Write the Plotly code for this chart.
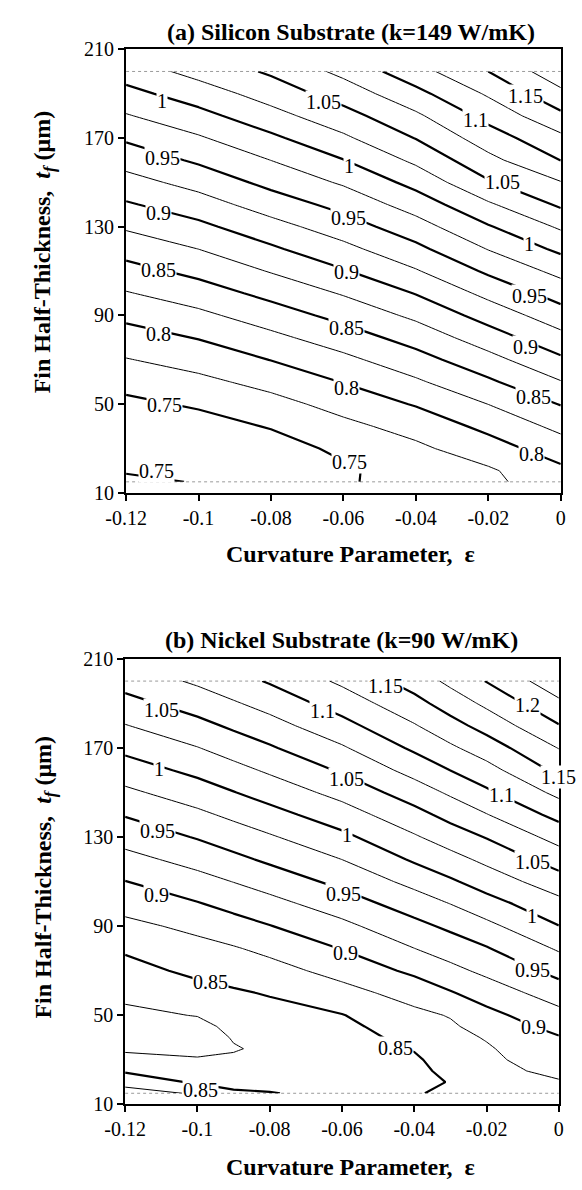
import plotly.graph_objects as go

FONT = "Liberation Serif"

# ---------------- Panel (a) Silicon substrate ----------------
a_x = [-0.12, -0.10, -0.08, -0.06, -0.04, -0.02, 0.0]
a_y = [15, 20, 30, 40, 50, 60, 70, 80, 90, 100, 110, 120, 130, 140, 150, 160, 170, 180, 190, 200]
a_m012 = [0.754, 0.7485, 0.741, 0.741, 0.7437, 0.7587, 0.7737, 0.7894, 0.8058, 0.8233, 0.8414, 0.8597, 0.8782, 0.8972, 0.9157, 0.9346, 0.9538, 0.9731, 0.9923, 1.0115]
a_m010 = [0.749, 0.742, 0.735, 0.7386, 0.7536, 0.7688, 0.7847, 0.8013, 0.8191, 0.8379, 0.8568, 0.8752, 0.8941, 0.9137, 0.9338, 0.9539, 0.9722, 0.992, 1.0125, 1.0333]
a_m008 = [0.739, 0.737, 0.7373, 0.7519, 0.7666, 0.7827, 0.8005, 0.8188, 0.8378, 0.8572, 0.8766, 0.8961, 0.9159, 0.9368, 0.9571, 0.9752, 0.995, 1.0163, 1.0357, 1.0536]
a_m006 = [0.746, 0.745, 0.7563, 0.7688, 0.7836, 0.8009, 0.8188, 0.838, 0.8577, 0.8771, 0.8979, 0.918, 0.938, 0.958, 0.9782, 0.9992, 1.0207, 1.0407, 1.061, 1.0816]
a_m004 = [0.764, 0.766, 0.770, 0.7839, 0.8019, 0.8212, 0.8404, 0.86, 0.8802, 0.9011, 0.9228, 0.9438, 0.9646, 0.9859, 1.008, 1.0302, 1.051, 1.0705, 1.0927, 1.1156]
a_m002 = [0.771, 0.7715, 0.7888, 0.8065, 0.8252, 0.8458, 0.8667, 0.888, 0.9098, 0.9318, 0.9543, 0.9761, 0.9978, 1.0214, 1.0474, 1.068, 1.088, 1.108, 1.1283, 1.15]
a_p000 = [0.7855, 0.7945, 0.8128, 0.8314, 0.8511, 0.8736, 0.8956, 0.9174, 0.9391, 0.9604, 0.9821, 1.0056, 1.0285, 1.054, 1.0738, 1.1003, 1.1192, 1.1444, 1.1687, 1.192]
a_cols = [a_m012, a_m010, a_m008, a_m006, a_m004, a_m002, a_p000]

# ---------------- Panel (b) Nickel substrate ----------------
b_x = [-0.12, -0.10, -0.09, -0.08, -0.06, -0.04, -0.03, -0.02, 0.0]
b_y = [15, 20, 25, 30, 35, 40, 45, 50, 60, 70, 80, 90, 100, 110, 120, 130, 140, 150, 160, 170, 180, 190, 200]
b_m012 = [0.886, 0.8661, 0.8472, 0.833, 0.821, 0.816, 0.815, 0.819, 0.8311, 0.8417, 0.8533, 0.8685, 0.8839, 0.8994, 0.9171, 0.9345, 0.9516, 0.9699, 0.988, 1.0061, 1.0239, 1.0418, 1.0596]
b_m010 = [0.872, 0.8465, 0.8367, 0.827, 0.819, 0.814, 0.817, 0.826, 0.8415, 0.8554, 0.8673, 0.881, 0.8983, 0.9161, 0.9339, 0.9518, 0.9696, 0.988, 1.0063, 1.0241, 1.0426, 1.0609, 1.079]
b_m009 = [0.853, 0.844, 0.835, 0.828, 0.8235, 0.8265, 0.832, 0.838, 0.847, 0.8599, 0.873, 0.890, 0.9077, 0.9256, 0.9441, 0.9621, 0.9803, 0.9991, 1.0173, 1.0357, 1.0542, 1.0724, 1.0908]
b_m008 = [0.851, 0.843, 0.836, 0.831, 0.829, 0.831, 0.836, 0.841, 0.8518, 0.8659, 0.8813, 0.8991, 0.917, 0.9356, 0.9545, 0.9723, 0.9913, 1.0102, 1.0287, 1.0472, 1.0657, 1.0841, 1.1024]
b_m006 = [0.844, 0.838, 0.835, 0.835, 0.837, 0.840, 0.844, 0.849, 0.8664, 0.8836, 0.9009, 0.9188, 0.9375, 0.9565, 0.9752, 0.9942, 1.0135, 1.033, 1.0529, 1.0721, 1.092, 1.1111, 1.1296]
b_m004 = [0.845, 0.842, 0.842, 0.845, 0.8521, 0.8575, 0.8632, 0.8689, 0.8847, 0.9051, 0.9248, 0.9428, 0.9619, 0.9823, 1.0034, 1.0222, 1.0416, 1.0623, 1.0836, 1.1042, 1.1231, 1.1419, 1.1607]
b_m003 = [0.862, 0.8513, 0.858, 0.865, 0.866, 0.868, 0.8715, 0.8765, 0.898, 0.9181, 0.9366, 0.9549, 0.9752, 0.9966, 1.0165, 1.037, 1.0579, 1.0788, 1.1002, 1.1209, 1.1411, 1.1611, 1.181]
b_m002 = [0.867, 0.868, 0.869, 0.8705, 0.8725, 0.8766, 0.8846, 0.8926, 0.9112, 0.9308, 0.9483, 0.9686, 0.9903, 1.011, 1.0309, 1.0514, 1.0739, 1.0957, 1.1161, 1.1375, 1.1592, 1.1802, 1.201]
b_p000 = [0.8668, 0.8733, 0.8798, 0.8864, 0.8929, 0.8982, 0.9082, 0.9171, 0.9371, 0.9579, 0.978, 0.9994, 1.0173, 1.039, 1.0617, 1.084, 1.1077, 1.1314, 1.156, 1.1759, 1.1986, 1.2199, 1.2411]
b_cols = [b_m012, b_m010, b_m009, b_m008, b_m006, b_m004, b_m003, b_m002, b_p000]

x_tickvals = [-0.12, -0.10, -0.08, -0.06, -0.04, -0.02, 0.0]
x_ticktext = ["-0.12", "-0.1", "-0.08", "-0.06", "-0.04", "-0.02", "0"]
y_tickvals = [10, 50, 90, 130, 170, 210]

title_a = "<b>(a) Silicon Substrate (k=149 W/mK)</b>"
title_b = "<b>(b) Nickel Substrate (k=90 W/mK)</b>"
x_title = "<b>Curvature Parameter,  ε</b>"
y_title = "<b>Fin Half-Thickness,  <i>t<sub>f</sub></i> (μm)</b>"

# contour level labels (text, placement) -- layout only
labels_a = [("1", -0.110, 186.5), ("0.95", -0.110, 161.2), ("0.9", -0.111, 136.1),
            ("0.85", -0.111, 110.3), ("0.8", -0.111, 81.5), ("0.75", -0.1095, 49.5),
            ("0.75", -0.1115, 20.0),
            ("1.05", -0.0655, 186.2), ("1", -0.0584, 157.5), ("0.95", -0.0586, 133.9),
            ("0.9", -0.0591, 109.5), ("0.85", -0.0591, 84.5), ("0.8", -0.0591, 57.2),
            ("0.75", -0.0582, 24.0),
            ("1.15", -0.0096, 188.9), ("1.1", -0.0236, 178.0), ("1.05", -0.0162, 150.0),
            ("1", -0.0087, 122.0), ("0.95", -0.0087, 98.9), ("0.9", -0.0096, 76.0),
            ("0.85", -0.0076, 53.4), ("0.8", -0.0081, 27.4)]
labels_b = [("1.05", -0.110, 186.9), ("1", -0.1107, 160.4), ("0.95", -0.1111, 132.5),
            ("0.9", -0.1113, 103.8), ("0.85", -0.0964, 64.9), ("0.85", -0.0991, 16.3),
            ("1.1", -0.0654, 186.5), ("1.05", -0.0587, 156.0), ("1", -0.0587, 131.0),
            ("0.95", -0.0596, 104.6), ("0.9", -0.0591, 78.1), ("0.85", -0.0451, 35.4),
            ("1.15", -0.0481, 197.9), ("1.2", -0.0088, 189.4), ("1.15", 0.0, 157.0),
            ("1.1", -0.016, 149.0), ("1.05", -0.0073, 119.0), ("1", -0.0075, 94.7),
            ("0.95", -0.0073, 70.5), ("0.9", -0.007, 44.8)]


def grid(cols):
    return [list(r) for r in zip(*cols)]


fig = go.Figure()


def add_panel(x, y, cols, xa, ya):
    z = grid(cols)
    fig.add_trace(go.Contour(
        x=x, y=y, z=z, xaxis=xa, yaxis=ya, showscale=False, hoverinfo="skip",
        contours=dict(start=0.775, end=1.275, size=0.05, coloring="none", showlabels=False),
        line=dict(color="black", width=1), line_smoothing=0))
    fig.add_trace(go.Contour(
        x=x, y=y, z=z, xaxis=xa, yaxis=ya, showscale=False, hoverinfo="skip",
        contours=dict(start=0.75, end=1.25, size=0.05, coloring="none", showlabels=False),
        line=dict(color="black", width=2.2), line_smoothing=0))


add_panel(a_x, a_y, a_cols, "x", "y")
add_panel(b_x, b_y, b_cols, "x2", "y2")

W, H = 582, 1190


def px(v):
    return v / W


def py(v):
    return 1 - v / H


xcommon = dict(range=[-0.12, 0], tickvals=x_tickvals, ticktext=x_ticktext, ticks="outside",
               ticklen=6, tickwidth=1.5, tickcolor="black", showline=True, linewidth=2,
               linecolor="black", mirror=True, showgrid=False, zeroline=False,
               tickfont=dict(family=FONT, size=20, color="black"))
ycommon = dict(range=[10, 210], tickvals=y_tickvals, ticks="outside", ticklen=6, tickwidth=1.5,
               tickcolor="black", showline=True, linewidth=2, linecolor="black", mirror=True,
               showgrid=False, zeroline=False, tickfont=dict(family=FONT, size=20, color="black"))

fig.update_layout(
    width=W, height=H, margin=dict(l=0, r=0, t=0, b=0),
    paper_bgcolor="white", plot_bgcolor="white", showlegend=False,
    xaxis=dict(domain=[px(110), px(565)], anchor="y", **xcommon),
    yaxis=dict(domain=[py(491), py(39)], anchor="x", **ycommon),
    xaxis2=dict(domain=[px(109), px(563)], anchor="y2", **xcommon),
    yaxis2=dict(domain=[py(1114), py(660)], anchor="x2", **ycommon),
)

# dotted data-boundary lines
for xr, yr in (("x", "y"), ("x2", "y2")):
    for yy in (15, 200):
        fig.add_shape(type="line", xref=xr, yref=yr, x0=-0.12, x1=0, y0=yy, y1=yy,
                      line=dict(color="#9a9a9a", width=1, dash="dot"), layer="below")

ann = []
lfont = dict(family=FONT, size=20, color="black")
for (txt, lx, ly) in labels_a:
    ann.append(dict(text=txt, x=lx, y=ly, xref="x", yref="y", showarrow=False, font=lfont,
                    bgcolor="white", borderpad=0, xanchor="center", yanchor="middle"))
for (txt, lx, ly) in labels_b:
    ann.append(dict(text=txt, x=lx, y=ly, xref="x2", yref="y2", showarrow=False, font=lfont,
                    bgcolor="white", borderpad=0, xanchor="center", yanchor="middle"))

tfont = dict(family=FONT, size=24, color="black")
ann.append(dict(text=title_a, x=px(345), y=py(21), xref="paper", yref="paper",
                showarrow=False, font=tfont, xanchor="center", yanchor="middle"))
ann.append(dict(text=title_b, x=px(336), y=py(641), xref="paper", yref="paper",
                showarrow=False, font=tfont, xanchor="center", yanchor="middle"))
ann.append(dict(text=x_title, x=px(345), y=py(553), xref="paper", yref="paper",
                showarrow=False, font=tfont, xanchor="center", yanchor="middle"))
ann.append(dict(text=x_title, x=px(345), y=py(1178), xref="paper", yref="paper",
                showarrow=False, font=tfont, xanchor="center", yanchor="middle"))
ann.append(dict(text=y_title, x=px(25), y=py(245), xref="paper", yref="paper",
                showarrow=False, font=tfont, textangle=-90, xanchor="center", yanchor="middle"))
ann.append(dict(text=y_title, x=px(25), y=py(882), xref="paper", yref="paper",
                showarrow=False, font=tfont, textangle=-90, xanchor="center", yanchor="middle"))
fig.update_layout(annotations=ann)

fig.write_html("out.html")
